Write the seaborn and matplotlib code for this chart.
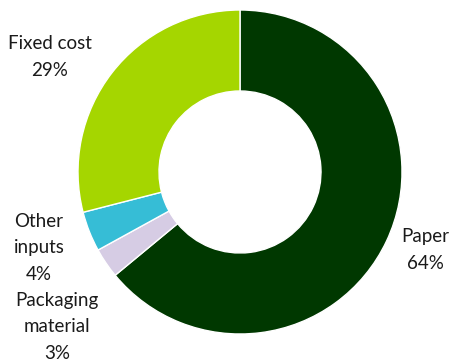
import matplotlib
matplotlib.use("Agg")
import matplotlib.pyplot as plt
import seaborn as sns

# Cost breakdown shares (%), listed clockwise from 12 o'clock
categories = ["Paper", "Packaging\nmaterial", "Other\ninputs", "Fixed cost"]
shares = [64, 3, 4, 29]
colors = ["#003800", "#D6CCE4", "#36BDD6", "#A5D600"]

sns.set_theme(style="white")
plt.rcParams["font.family"] = ["Lato", "DejaVu Sans"]

W, H = 452, 363
fig = plt.figure(figsize=(W / 100, H / 100), dpi=100)
fig.patch.set_facecolor("white")

# Donut centred at (240, 172) px with outer radius 162 px
cx, cy, r = 240, 172, 162
ax = fig.add_axes([(cx - r) / W, (H - cy - r) / H, 2 * r / W, 2 * r / H])
ax.pie(
    shares,
    colors=colors,
    startangle=90,
    counterclock=False,
    radius=1.0,
    wedgeprops=dict(width=0.5, edgecolor="white", linewidth=1.0),
)
ax.set_xlim(-1, 1)
ax.set_ylim(-1, 1)
ax.set_aspect("equal")
ax.axis("off")

# Category labels with their shares
label_pos = {
    "Paper": (425, 250),
    "Packaging\nmaterial": (57, 327),
    "Other\ninputs": (39, 248),
    "Fixed cost": (50, 57),
}
for name, val in zip(categories, shares):
    x, y = label_pos[name]
    fig.text(x / W, 1 - y / H, f"{name}\n{val}%", ha="center", va="center",
             fontsize=13.5, linespacing=1.7, color="#1a1a1a")

fig.savefig("out.png", dpi=100, facecolor="white")
